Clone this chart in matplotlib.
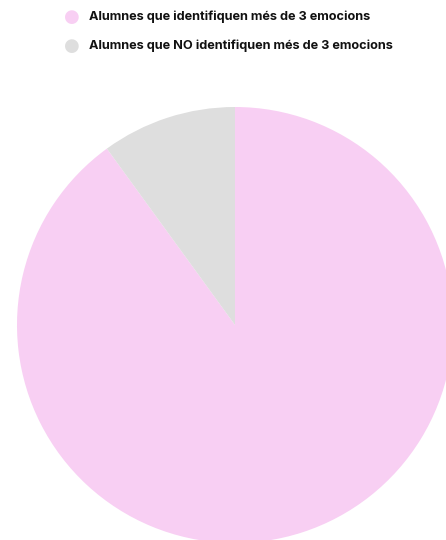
import matplotlib.pyplot as plt

labels = ['Alumnes que identifiquen més de 3 emocions',
          'Alumnes que NO identifiquen més de 3 emocions']
values = [90, 10]
colors = ['#F8CFF3', '#DEDEDE']

fig = plt.figure(figsize=(4.46, 5.4), dpi=100)

# pie runs off the right and bottom edges
ax = fig.add_axes([17 / 446, -3 / 540, 436 / 446, 436 / 540])
ax.pie(values, colors=colors, startangle=90, counterclock=False,
       radius=1.0, wedgeprops={'linewidth': 0})
ax.set_xlim(-1, 1)
ax.set_ylim(-1, 1)
ax.set_aspect('equal')
ax.axis('off')

# legend at the top
for i, (lab, col) in enumerate(zip(labels, colors)):
    y = 1 - (17 + 29 * i) / 540
    fig.text(72 / 446, y, '\u25CF', color=col, fontsize=13,
             ha='center', va='center')
    fig.text(89 / 446, y, lab, fontsize=9.15, fontweight='bold',
             family='Inter', ha='left', va='center', color='#111111')

fig.savefig('out.png', dpi=100)
